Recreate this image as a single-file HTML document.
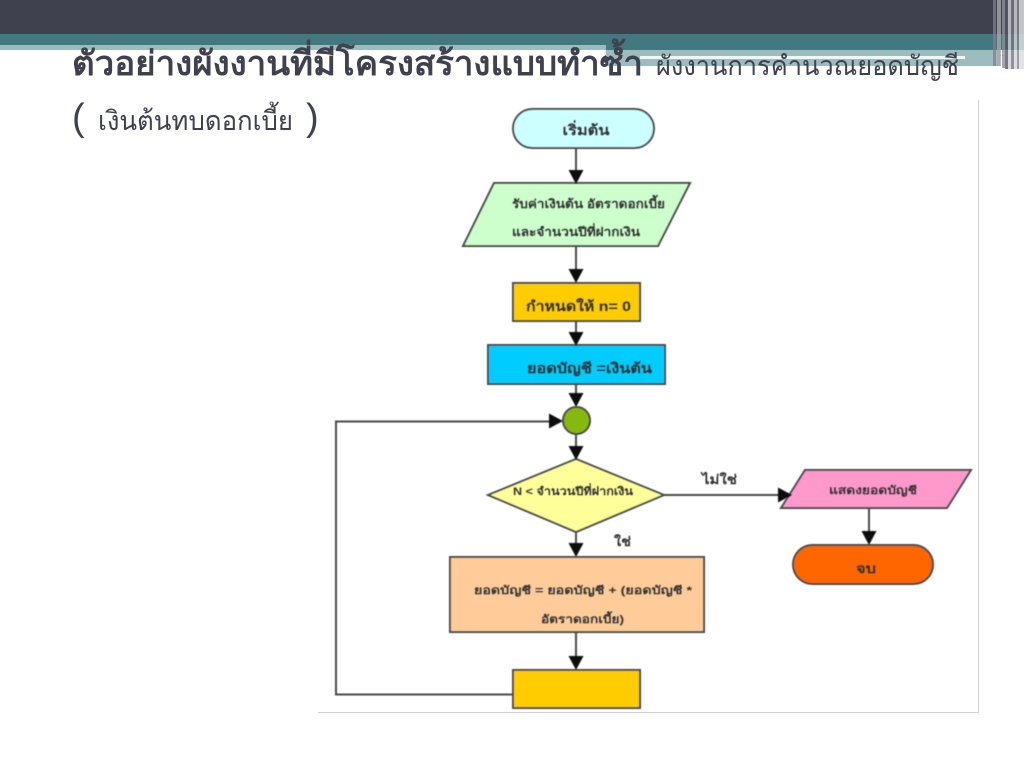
<!DOCTYPE html>
<html lang="th"><head><meta charset="utf-8"><title>ตัวอย่างผังงาน</title>
<style>
html,body{margin:0;padding:0;background:#fff;width:1024px;height:768px;overflow:hidden}
svg{display:block;position:absolute;left:0;top:0}
text{font-family:"Liberation Sans","Noto Sans CJK SC","WenQuanYi Zen Hei",sans-serif}
</style></head><body>
<svg width="1024" height="768" viewBox="0 0 1024 768" xmlns="http://www.w3.org/2000/svg">
<defs>
<filter id="b" x="-5%" y="-5%" width="110%" height="110%"><feGaussianBlur stdDeviation="0.5"/></filter>
</defs>
<!-- header bands -->
<rect x="0" y="0" width="1024" height="34" fill="#40414f"/>
<rect x="0" y="34" width="1024" height="11" fill="#41797f"/>
<rect x="606" y="45" width="418" height="5" fill="#41797f"/>
<rect x="0" y="45" width="606" height="5" fill="#9dbcc0"/>
<rect x="606" y="50" width="394" height="16" fill="#9dbcc0"/>
<rect x="640" y="56" width="325" height="3" fill="#fff" opacity=".85"/>
<!-- right stripes -->
<rect x="993" y="0" width="3" height="66" fill="#7f8089" opacity=".75"/>
<rect x="997" y="0" width="4" height="66" fill="#a7a8ae" opacity=".8"/>
<rect x="1002" y="0" width="3" height="68" fill="#8e9098" opacity=".8"/>
<rect x="1005" y="0" width="3" height="69" fill="#555663" opacity=".8"/>
<rect x="1008" y="0" width="3" height="69" fill="#cfd0d4" opacity=".8"/>
<rect x="1011" y="0" width="3" height="69" fill="#777885" opacity=".8"/>
<rect x="1014" y="0" width="3" height="69" fill="#d5d6da" opacity=".8"/>
<rect x="1017" y="0" width="2" height="69" fill="#85868f" opacity=".8"/>
<rect x="1019" y="0" width="5" height="69" fill="#dcdde0" opacity=".85"/>
<!-- image frame -->
<line x1="978.5" y1="100" x2="978.5" y2="712" stroke="#d2d2d2"/>
<line x1="318" y1="712.5" x2="979" y2="712.5" stroke="#d2d2d2"/>
<!-- flowchart -->
<g filter="url(#b)" stroke="#4a4a4a" stroke-width="2" fill="none">
<rect x="513" y="109" width="141" height="39" rx="19.5" fill="#ccffff"/>
<polygon points="494,183 690,183 658,246 463,246" fill="#ccffcc"/>
<rect x="513" y="283" width="127" height="38" fill="#ffcc00"/>
<rect x="488" y="345" width="177" height="39" fill="#00ccff"/>
<circle cx="576.500" cy="420.500" r="13.500" fill="#86b90a"/>
<polygon points="488,495 576,459 664,495 576,532" fill="#ffff99"/>
<rect x="450" y="557" width="254" height="75" fill="#ffcc99"/>
<rect x="513" y="670" width="127" height="38" fill="#ffcc00"/>
<polygon points="805,470 971,470 947,508 781,508" fill="#ff99cc"/>
<rect x="793" y="545" width="140" height="39" rx="19.5" fill="#ff6600"/>
<path d="M576 148V172M576 246V272M576 321V336M576 384V398M576 434V448M576 532V546M576 632V658M869 508V533M513 694.500H336V421.500H552M664 495H780"/>
</g>
<g filter="url(#b)" fill="#0c0c0c">
<polygon points="568.500,170 583.500,170 576,184"/>
<polygon points="568.500,269 583.500,269 576,283"/>
<polygon points="568.500,332 583.500,332 576,346"/>
<polygon points="568.500,393 583.500,393 576,407"/>
<polygon points="568.500,446 583.500,446 576,460"/>
<polygon points="568.500,543 583.500,543 576,557"/>
<polygon points="568.500,656 583.500,656 576,670"/>
<polygon points="861.500,531 876.500,531 869,545"/>
<polygon points="549,413.500 549,428.500 563,421"/>
<polygon points="778,487.500 778,502.500 792,495"/>
</g>
<!-- flowchart labels -->
<g filter="url(#b)" fill="#333" font-weight="bold" font-size="12">
<text x="586" y="135" text-anchor="middle" font-size="14" textLength="47" lengthAdjust="spacingAndGlyphs">เริ่มต้น</text>
<text x="512" y="208" textLength="153" lengthAdjust="spacingAndGlyphs">รับค่าเงินต้น อัตราดอกเบี้ย</text>
<text x="512" y="236" textLength="128" lengthAdjust="spacingAndGlyphs">และจำนวนปีที่ฝากเงิน</text>
<text x="526" y="311" font-size="14" textLength="105" lengthAdjust="spacingAndGlyphs">กำหนดให้ n= 0</text>
<text x="527" y="373" font-size="14" textLength="125" lengthAdjust="spacingAndGlyphs">ยอดบัญชี =เงินต้น</text>
<text x="513" y="495" font-size="11" textLength="120" lengthAdjust="spacingAndGlyphs">N &lt; จำนวนปีที่ฝากเงิน</text>
<text x="474" y="594" font-size="11" textLength="218" lengthAdjust="spacingAndGlyphs">ยอดบัญชี = ยอดบัญชี + (ยอดบัญชี *</text>
<text x="541" y="623" font-size="11" textLength="83" lengthAdjust="spacingAndGlyphs">อัตราดอกเบี้ย)</text>
<text x="829" y="494" font-size="11" textLength="88" lengthAdjust="spacingAndGlyphs">แสดงยอดบัญชี</text>
<text x="856" y="573" font-size="13" textLength="20" lengthAdjust="spacingAndGlyphs">จบ</text>
<text x="702" y="484" font-size="13" textLength="35" lengthAdjust="spacingAndGlyphs">ไม่ใช่</text>
<text x="614" y="546" font-size="13" textLength="17" lengthAdjust="spacingAndGlyphs">ใช่</text>
</g>
<!-- title -->
<text x="72" y="75" font-size="34" font-weight="bold" fill="#40414f" textLength="571" lengthAdjust="spacingAndGlyphs">ตัวอย่างผังงานที่มีโครงสร้างแบบทำซ้ำ</text>
<text x="656" y="75" font-size="27" fill="#40414f" textLength="303" lengthAdjust="spacingAndGlyphs">ผังงานการคำนวณยอดบัญชี</text>
<text x="72" y="130" font-size="38" fill="#40414f">(</text>
<text x="98" y="130" font-size="27" fill="#40414f" textLength="195" lengthAdjust="spacingAndGlyphs">เงินต้นทบดอกเบี้ย</text>
<text x="306" y="130" font-size="38" fill="#40414f">)</text>
</svg>
</body></html>
